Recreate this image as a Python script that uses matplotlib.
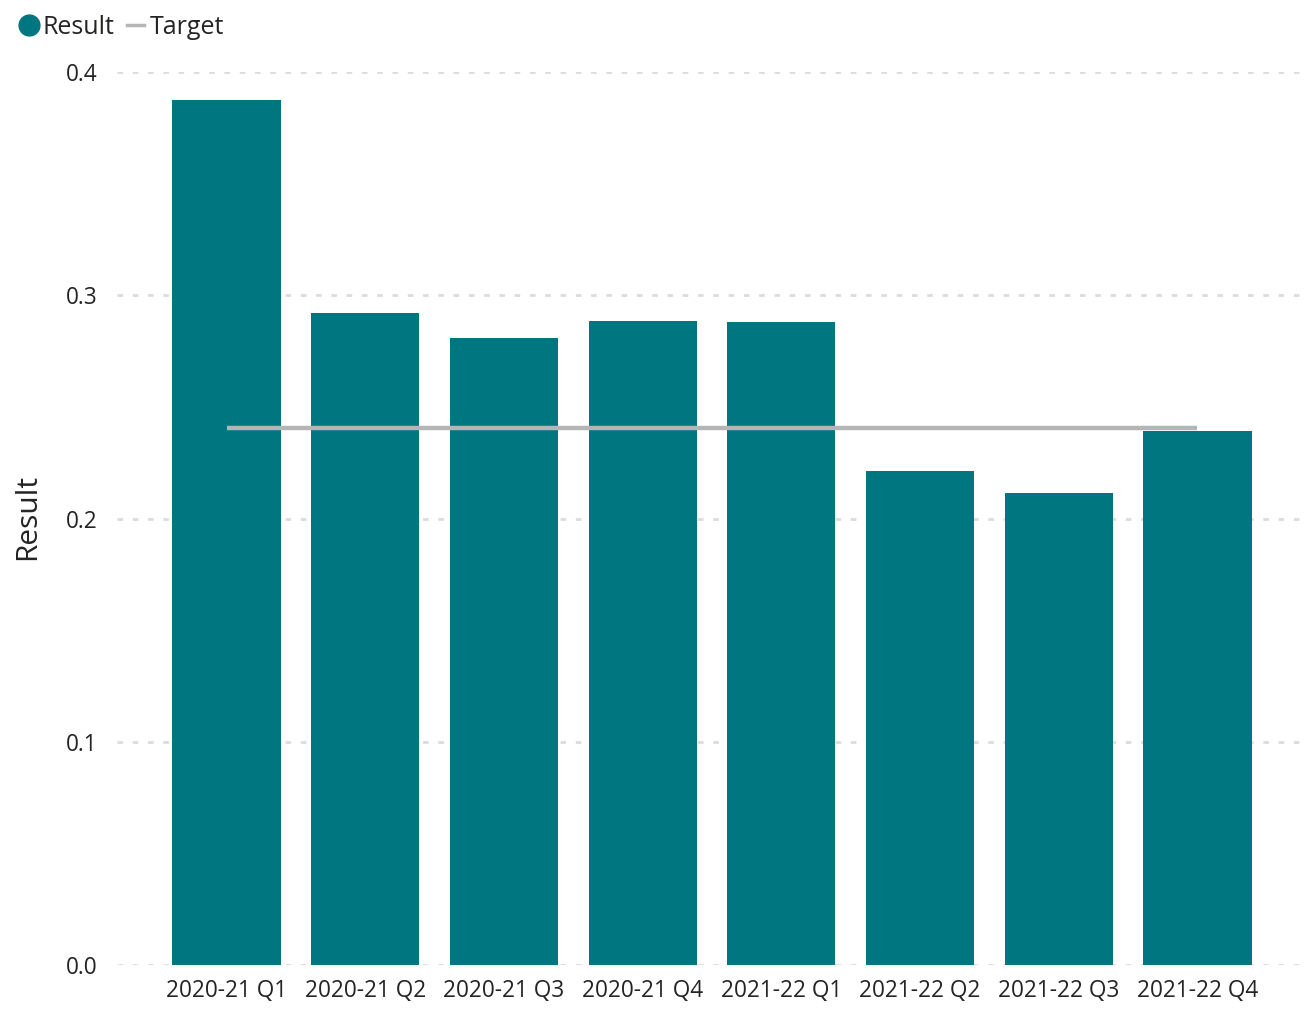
import matplotlib
matplotlib.use("Agg")
import matplotlib.pyplot as plt
from matplotlib.lines import Line2D

categories = ["2020-21 Q1", "2020-21 Q2", "2020-21 Q3", "2020-21 Q4",
              "2021-22 Q1", "2021-22 Q2", "2021-22 Q3", "2021-22 Q4"]
result = [0.3875, 0.292, 0.281, 0.2885, 0.288, 0.2213, 0.2114, 0.2392]
target = [0.2405] * 8
yticks = [0.0, 0.1, 0.2, 0.3, 0.4]
ytick_labels = ["0.0", "0.1", "0.2", "0.3", "0.4"]

plt.rcParams['font.family'] = ['Open Sans', 'DejaVu Sans']
bar_color = "#007681"
line_color = "#b5b5b5"
text_color = "#252423"

fig = plt.figure(figsize=(13.07, 10.10), dpi=100)
ax = fig.add_axes([117/1307, 45/1010, 1 - 117/1307, (965-72)/1010])

x = list(range(len(categories)))
ax.bar(x, result, width=0.78, color=bar_color, zorder=2)
ax.plot(x, target, color=line_color, linewidth=3.2, zorder=3, solid_capstyle='butt')

ax.set_ylim(0, 0.4)
ax.set_xlim(-0.79, 7.79)
ax.set_yticks(yticks)
ax.set_yticklabels(ytick_labels)
ax.set_xticks(x)
ax.set_xticklabels(categories)
ax.tick_params(axis='both', length=0, labelsize=16.3, colors=text_color)
ax.tick_params(axis='y', pad=14)
ax.tick_params(axis='x', pad=10)
for s in ax.spines.values():
    s.set_visible(False)
ax.yaxis.grid(True, color="#dcdcdc", linestyle=(0, (2, 3.5)), linewidth=2.0, zorder=0)
ax.set_axisbelow(True)

fig.text(28/1307, 1 - 517/1010, "Result", rotation=90, ha='center', va='center',
         fontsize=21.5, color=text_color)

handles = [
    Line2D([0], [0], marker='o', color='none', markerfacecolor=bar_color,
           markeredgecolor=bar_color, markersize=15, label="Result"),
    Line2D([0], [0], color=line_color, linewidth=2.5, label="Target"),
]
fig.legend(handles=handles, loc='upper left', bbox_to_anchor=(0.0, 1.005),
           ncol=2, frameon=False, fontsize=18, handlelength=0.7,
           handletextpad=0.2, columnspacing=0.5, labelcolor=text_color,
           borderpad=0.3)

fig.savefig("out.png", dpi=100, facecolor="white")
